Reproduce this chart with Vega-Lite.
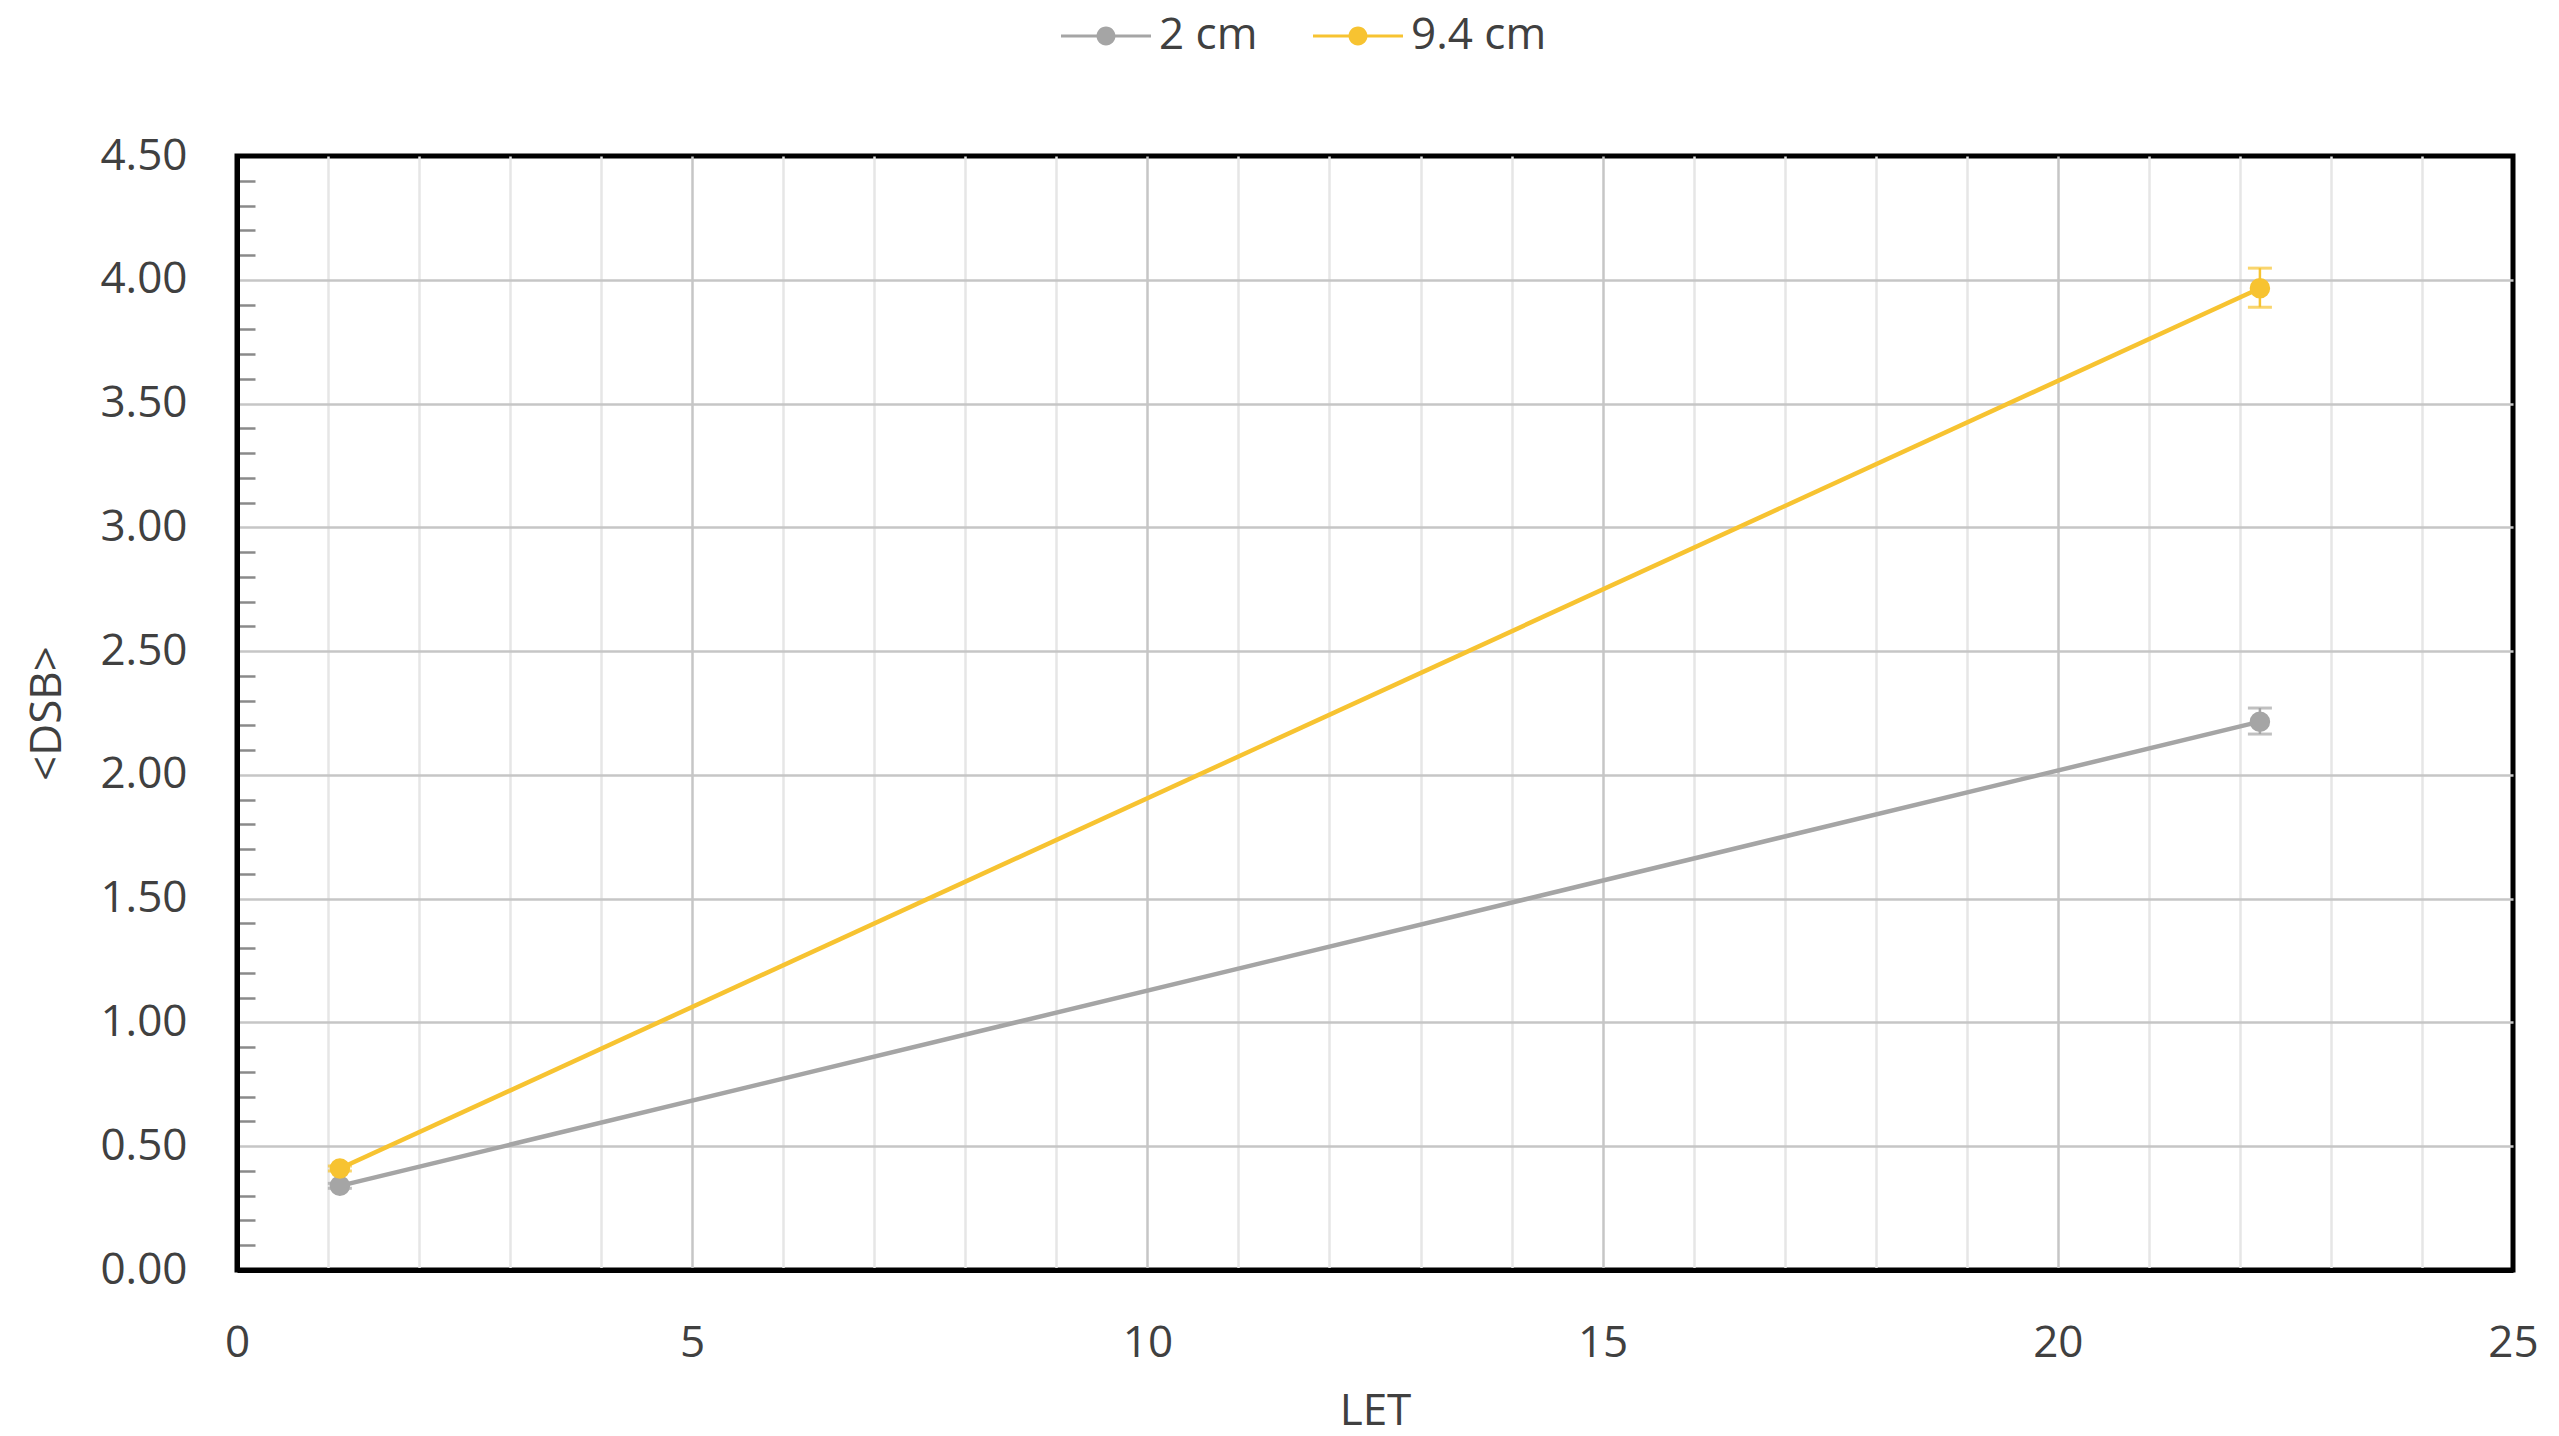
{
  "$schema": "https://vega.github.io/schema/vega-lite/v6.json",
  "width": 2276,
  "height": 1114,
  "autosize": {"type": "none"},
  "padding": {"left": 237, "top": 156, "right": 46, "bottom": 166},
  "background": "white",
  "config": {
    "font": "Open Sans",
    "view": {"stroke": "black", "strokeWidth": 5},
    "axis": {
      "labelFont": "Open Sans",
      "labelFontSize": 44,
      "labelColor": "#404040",
      "titleFont": "Open Sans",
      "titleFontSize": 44,
      "titleFontWeight": "normal",
      "titleColor": "#404040",
      "ticks": false,
      "domainColor": "black",
      "domainWidth": 5,
      "labelOverlap": false,
      "labelBound": false,
      "labelFlush": false,
      "tickCount": 1000
    }
  },
  "data": {
    "values": [
      {"series": "2 cm", "LET": 1.13, "DSB": 0.34, "lo": 0.33, "hi": 0.35},
      {"series": "2 cm", "LET": 22.22, "DSB": 2.215, "lo": 2.165, "hi": 2.27},
      {"series": "9.4 cm", "LET": 1.13, "DSB": 0.41, "lo": 0.40, "hi": 0.42},
      {"series": "9.4 cm", "LET": 22.22, "DSB": 3.966, "lo": 3.889, "hi": 4.047}
    ]
  },
  "layer": [
    {
      "mark": {"type": "line", "strokeWidth": 4.5},
      "encoding": {
        "x": {
          "field": "LET", "type": "quantitative",
          "scale": {"domain": [0, 25], "nice": false, "zero": false},
          "axis": {
            "title": "LET",
            "tickCount": 1000,
            "values": [0,1,2,3,4,5,6,7,8,9,10,11,12,13,14,15,16,17,18,19,20,21,22,23,24,25],
            "labelExpr": "datum.value % 5 === 0 ? format(datum.value, 'd') : ''",
            "grid": true,
            "gridWidth": 2.5,
            "gridColor": {"condition": {"test": "datum.value % 5 === 0", "value": "#c6c6c6"}, "value": "#e6e6e6"},
            "gridOpacity": {"condition": {"test": "datum.value <= 0 || datum.value >= 25", "value": 0}, "value": 1},
            "labelPadding": 51,
            "titlePadding": 24
          }
        },
        "y": {
          "field": "DSB", "type": "quantitative",
          "scale": {"domain": [0, 4.5], "nice": false, "zero": false},
          "axis": {
            "title": "<DSB>",
            "tickCount": 1000,
            "values": [0,0.1,0.2,0.3,0.4,0.5,0.6,0.7,0.8,0.9,1,1.1,1.2,1.3,1.4,1.5,1.6,1.7,1.8,1.9,2,2.1,2.2,2.3,2.4,2.5,2.6,2.7,2.8,2.9,3,3.1,3.2,3.3,3.4,3.5,3.6,3.7,3.8,3.9,4,4.1,4.2,4.3,4.4,4.5],
            "labelExpr": "abs(datum.value*2 - round(datum.value*2)) < 1e-6 ? format(datum.value, '.2f') : ''",
            "grid": true,
            "gridWidth": 2.5,
            "gridColor": {"condition": {"test": "abs(datum.value*2 - round(datum.value*2)) < 1e-6", "value": "#c6c6c6"}, "value": "#8a8a8a"},
            "gridDash": {"condition": {"test": "abs(datum.value*2 - round(datum.value*2)) < 1e-6", "value": []}, "value": [18, 5000]},
            "gridOpacity": {"condition": {"test": "datum.value <= 0 || datum.value >= 4.49", "value": 0}, "value": 1},
            "labelPadding": 50,
            "titlePadding": 30
          }
        },
        "color": {
          "field": "series", "type": "nominal",
          "scale": {"domain": ["2 cm", "9.4 cm"], "range": ["#A5A5A5", "#F7C331"]},
          "legend": {
            "orient": "none",
            "legendX": 824,
            "legendY": -165,
            "direction": "horizontal",
            "title": null,
            "symbolType": "M-1,-0.035H1V0.035H-1Z M0.21,0A0.21,0.21,0,1,1,-0.21,0A0.21,0.21,0,1,1,0.21,0Z",
            "symbolSize": 8100,
            "symbolStrokeWidth": 0,
            "labelFont": "Open Sans",
            "labelFontSize": 44,
            "labelColor": "#404040",
            "labelOffset": 8,
            "columnPadding": 55,
            "encode": {"symbols": {"update": {"fill": {"scale": "color", "field": "value"}, "fillOpacity": {"value": 1}, "opacity": {"value": 1}}}}
          }
        }
      }
    },
    {
      "mark": {"type": "rule", "strokeWidth": 2.5},
      "encoding": {
        "x": {"field": "LET", "type": "quantitative", "scale": {"domain": [0, 25], "nice": false, "zero": false}},
        "y": {"field": "lo", "type": "quantitative", "scale": {"domain": [0, 4.5], "nice": false, "zero": false}},
        "y2": {"field": "hi"},
        "color": {"field": "series", "type": "nominal"}
      }
    },
    {
      "mark": {"type": "tick", "orient": "horizontal", "size": 24, "thickness": 3},
      "encoding": {
        "x": {"field": "LET", "type": "quantitative", "scale": {"domain": [0, 25], "nice": false, "zero": false}},
        "y": {"field": "lo", "type": "quantitative", "scale": {"domain": [0, 4.5], "nice": false, "zero": false}},
        "color": {"field": "series", "type": "nominal"}
      }
    },
    {
      "mark": {"type": "tick", "orient": "horizontal", "size": 24, "thickness": 3},
      "encoding": {
        "x": {"field": "LET", "type": "quantitative", "scale": {"domain": [0, 25], "nice": false, "zero": false}},
        "y": {"field": "hi", "type": "quantitative", "scale": {"domain": [0, 4.5], "nice": false, "zero": false}},
        "color": {"field": "series", "type": "nominal"}
      }
    },
    {
      "mark": {"type": "point", "filled": true, "size": 420, "opacity": 1},
      "encoding": {
        "x": {"field": "LET", "type": "quantitative", "scale": {"domain": [0, 25], "nice": false, "zero": false}},
        "y": {"field": "DSB", "type": "quantitative", "scale": {"domain": [0, 4.5], "nice": false, "zero": false}},
        "color": {"field": "series", "type": "nominal"}
      }
    }
  ]
}
